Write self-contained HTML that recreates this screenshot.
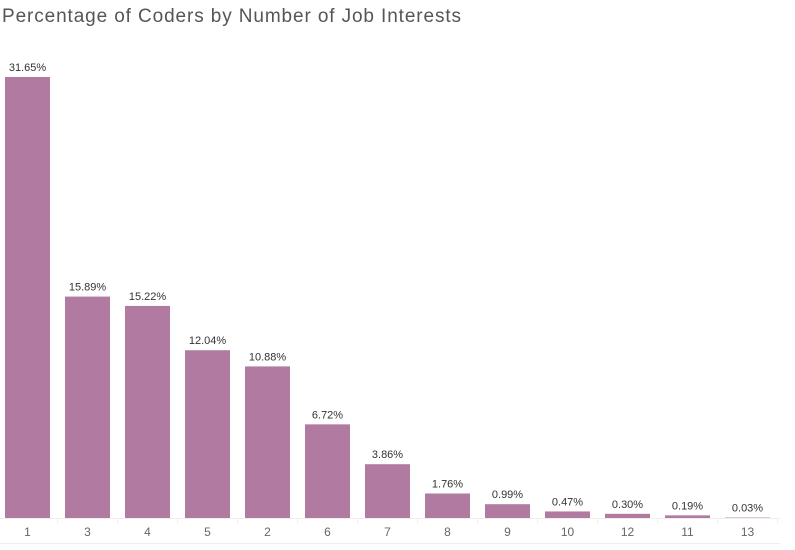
<!DOCTYPE html>
<html><head><meta charset="utf-8"><style>
body{margin:0;background:#fff;width:795px;height:545px;overflow:hidden;font-family:"Liberation Sans",sans-serif}
</style></head><body>
<svg id="chart" width="795" height="545">
<text x="2" y="22" font-size="19" fill="#555" textLength="459" lengthAdjust="spacing">Percentage of Coders by Number of Job Interests</text>
<line x1="0" y1="518.5" x2="780" y2="518.5" stroke="#eee"/>
<line x1="0" y1="543.5" x2="780" y2="543.5" stroke="#eee"/>
</svg>
<script>
const categories=["1","3","4","5","2","6","7","8","9","10","12","11","13"];
const values=[31.65,15.89,15.22,12.04,10.88,6.72,3.86,1.76,0.99,0.47,0.30,0.19,0.03];
const svg=document.getElementById('chart');
const NS='http://www.w3.org/2000/svg';
const base=518, pxPer=441/31.65, step=60, x0=5, bw=45;
function yScale(v){return base-v*pxPer;}
function xScale(i){return x0+i*step;}
categories.forEach((c,i)=>{
  const v=values[i];
  const r=document.createElementNS(NS,'rect');
  r.setAttribute('x',xScale(i));r.setAttribute('y',yScale(v));
  r.setAttribute('width',bw);r.setAttribute('height',base-yScale(v));
  r.setAttribute('fill','#b07aa1');
  
  
  svg.appendChild(r);
  const t=document.createElementNS(NS,'text');
  t.setAttribute('x',xScale(i)+bw/2);t.setAttribute('y',yScale(v)-6);
  t.setAttribute('text-anchor','middle');t.setAttribute('font-size','11');t.setAttribute('fill','#333');
  t.textContent=v.toFixed(2)+'%';
  
  
  svg.appendChild(t);
  const l=document.createElementNS(NS,'text');
  l.setAttribute('x',xScale(i)+bw/2);l.setAttribute('y',536);
  l.setAttribute('text-anchor','middle');l.setAttribute('font-size','12');l.setAttribute('fill','#666');
  l.textContent=c;
  
  
  svg.appendChild(l);
  const s=document.createElementNS(NS,'line');
  const sx=xScale(i)+bw+7.5;
  s.setAttribute('x1',sx);s.setAttribute('x2',sx);s.setAttribute('y1',518);s.setAttribute('y2',523);
  s.setAttribute('stroke','#eee');
  
  
  svg.appendChild(s);
});
</script>
</body></html>
